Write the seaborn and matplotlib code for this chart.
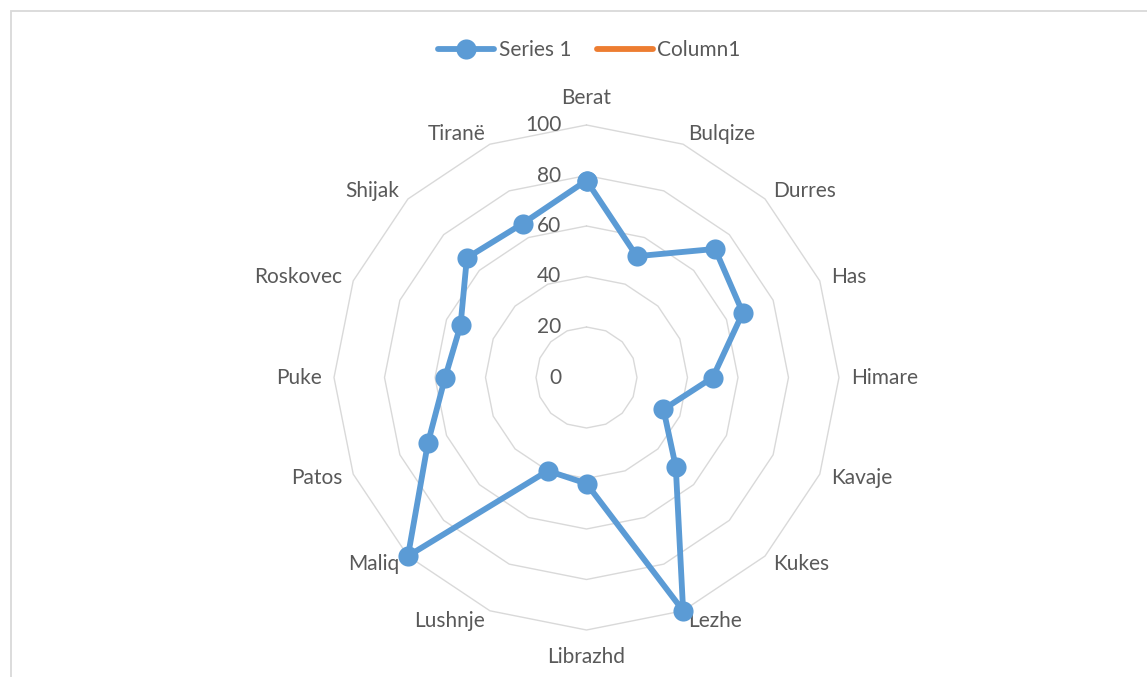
import numpy as np
import pandas as pd
import matplotlib
matplotlib.use("Agg")
import matplotlib.pyplot as plt
from matplotlib.lines import Line2D
from matplotlib.patches import Rectangle
import seaborn as sns

# ---- data ----
categories = ["Berat", "Bulqize", "Durres", "Has", "Himare", "Kavaje", "Kukes", "Lezhe",
              "Librazhd", "Lushnje", "Maliq", "Patos", "Puke", "Roskovec", "Shijak", "Tiranë"]
series1 = [78, 52, 72, 67, 50, 33, 50, 100, 42, 40, 100, 68, 56, 54, 67, 66]
radial_ticks = [0, 20, 40, 60, 80, 100]
legend_labels = ["Series 1", "Column1"]

BLUE = "#5B9BD5"
ORANGE = "#ED7D31"
GRID = "#D9D9D9"
TEXT = "#595959"
FONT = "Lato"
FS = 15

sns.set_theme(style="white")
plt.rcParams["font.family"] = [FONT, "DejaVu Sans"]

W, H = 1147, 677
fig = plt.figure(figsize=(W / 100, H / 100), dpi=100)
fig.patch.set_facecolor("white")

# polar axes: centre (586.5, 377.5) px, radius 252.5 px
cx, cy, R = 586.5, 377.5, 252.5
ax = fig.add_axes([(cx - R) / W, (H - cy - R) / H, 2 * R / W, 2 * R / H], projection="polar")
ax.set_theta_zero_location("N")
ax.set_theta_direction(-1)
ax.set_ylim(0, 100)
ax.grid(False)
ax.set_xticks([])
ax.set_yticks([])
ax.spines["polar"].set_visible(False)
ax.set_facecolor("none")

n = len(categories)
theta = np.linspace(0, 2 * np.pi, n, endpoint=False)
theta_closed = np.append(theta, 2 * np.pi)

# polygon grid rings
for v in radial_ticks[1:]:
    ax.plot(theta_closed, [v] * (n + 1), color=GRID, lw=1.0, zorder=1, clip_on=False)

# radial tick labels
for v in radial_ticks:
    ax.annotate(str(v), xy=(0, v), xytext=(-25, 0), textcoords="offset pixels",
                ha="right", va="center", fontsize=FS, color=TEXT, family=[FONT, "DejaVu Sans"])

# category labels
for t, lab in zip(theta, categories):
    s, c = np.sin(t), np.cos(t)
    if abs(s) < 0.1:
        ha = "center"
        dx, dy = 0, 27 * np.sign(c)
    else:
        ha = "left" if s > 0 else "right"
        dx, dy = 12 * s, 11 * c
    ax.annotate(lab, xy=(t, 100), xytext=(dx, dy), textcoords="offset pixels",
                ha=ha, va="center", fontsize=FS, color=TEXT, annotation_clip=False,
                family=[FONT, "DejaVu Sans"])

# data series
df = pd.DataFrame({"theta": theta_closed, "value": series1 + [series1[0]]})
sns.lineplot(data=df, x="theta", y="value", sort=False, estimator=None, ax=ax,
             color=BLUE, lw=4.2, marker="o", markersize=14.5, markeredgewidth=0,
             zorder=3, clip_on=False)
ax.set_xlabel("")
ax.set_ylabel("")
ax.set_xticks([])
ax.set_yticks([])

# legend
handles = [
    Line2D([], [], color=BLUE, lw=4.2, marker="o", markersize=14.5, markeredgewidth=0),
    Line2D([], [], color=ORANGE, lw=4.2),
]
leg = fig.legend(handles, legend_labels, loc="center", bbox_to_anchor=(589.5 / W, 1 - 50 / H),
                 ncol=2, frameon=False, fontsize=FS, handlelength=2.7, handletextpad=0.2,
                 columnspacing=1.25, labelcolor=TEXT, prop={"family": [FONT, "DejaVu Sans"], "size": FS})

# chart border (cropped on right and bottom)
fig.patches.append(Rectangle((10.5 / W, -0.05), 1.1, 1 - 11 / H + 0.05, transform=fig.transFigure,
                             fill=False, edgecolor=GRID, lw=1.3, clip_on=False))

fig.savefig("out.png", dpi=100, facecolor="white")
